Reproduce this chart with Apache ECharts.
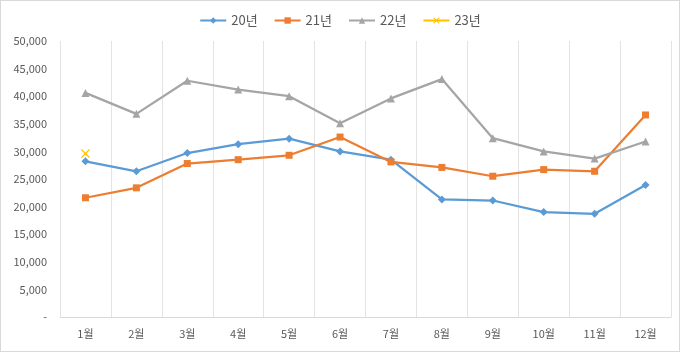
<!DOCTYPE html>
<html>
<head>
<meta charset="utf-8">
<script src="https://cdn.jsdelivr.net/npm/echarts@6/dist/echarts.min.js"></script>
<style>
  html, body { margin: 0; padding: 0; background: #fff; }
  #chart { width: 680px; height: 352px; box-sizing: border-box; border: 1px solid #d9d9d9; }
</style>
</head>
<body>
<div id="chart"></div>
<script>
// 월별 데이터
var months = ['1월', '2월', '3월', '4월', '5월', '6월', '7월', '8월', '9월', '10월', '11월', '12월'];
var y20 = [28200, 26400, 29700, 31300, 32300, 30000, 28500, 21300, 21100, 19000, 18700, 23900];
var y21 = [21600, 23400, 27800, 28500, 29300, 32600, 28100, 27100, 25500, 26700, 26400, 36600];
var y22 = [40600, 36800, 42800, 41200, 40000, 35100, 39600, 43100, 32400, 30000, 28700, 31800];
var y23 = [29600, null, null, null, null, null, null, null, null, null, null, null];

var color_azul = '#5b9bd5';
var color_naranja = '#ed7d31';
var color_gris = '#a5a5a5';
var color_amarillo = '#ffc000';
var font = '"Noto Sans CJK KR", "Noto Sans", sans-serif';

var simbolo_x = 'path://M0,1L1,0L5,4L9,0L10,1L6,5L10,9L9,10L5,6L1,10L0,9L4,5Z';

var chart = echarts.init(document.getElementById('chart'));

function serie(name, data, color, symbol, size) {
    return {
        name: name,
        type: 'line',
        data: data,
        symbol: symbol,
        symbolSize: size,
        showAllSymbol: true,
        lineStyle: { color: color, width: 2.25 },
        itemStyle: { color: color },
        emphasis: { disabled: true }
    };
}

var option = {
    animation: false,
    textStyle: { fontFamily: font },
    legend: {
        top: 8,
        left: 'center',
        itemWidth: 26,
        itemHeight: 8,
        itemGap: 16,
        textStyle: { color: '#595959', fontSize: 13, fontFamily: font },
        data: ['20년', '21년', '22년', '23년']
    },
    grid: { left: 59, right: 8, top: 40, bottom: 34 },
    xAxis: {
        type: 'category',
        data: months,
        boundaryGap: true,
        axisLine: { lineStyle: { color: '#d9d9d9' } },
        axisTick: { show: false },
        axisLabel: { color: '#595959', fontSize: 11, margin: 11, fontFamily: font },
        splitLine: { show: true, lineStyle: { color: '#e3e3e3', width: 1 } }
    },
    yAxis: {
        type: 'value',
        min: 0,
        max: 50000,
        interval: 5000,
        axisLine: { show: false },
        axisTick: { show: false },
        splitLine: { show: false },
        axisLabel: {
            color: '#595959',
            fontSize: 11,
            margin: 13,
            fontFamily: font,
            formatter: function (v) {
                return v === 0 ? '-' : v.toLocaleString('en-US');
            }
        }
    },
    series: [
        serie('20년', y20, color_azul, 'diamond', 8),
        serie('21년', y21, color_naranja, 'rect', 7),
        serie('22년', y22, color_gris, 'triangle', 8),
        serie('23년', y23, color_amarillo, simbolo_x, 9)
    ]
};

chart.setOption(option);
</script>
</body>
</html>
